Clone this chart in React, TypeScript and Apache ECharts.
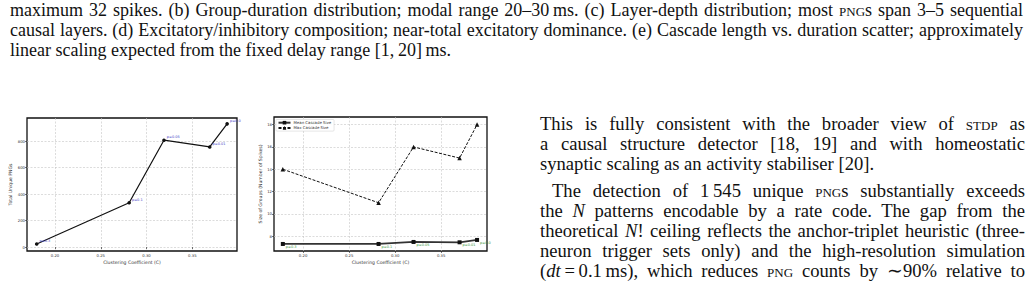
import React, { useEffect, useRef } from "react";
import * as echarts from "echarts";

const pLabels = ["p=0.3", "p=0.1", "p=0.05", "p=0.01", "p=0.0"];
const clusteringA = [0.18, 0.281, 0.319, 0.369, 0.388];
const totalPNGs = [23, 335, 808, 757, 932];
const clusteringB = [0.178, 0.282, 0.32, 0.37, 0.389];
const meanCascade = [7.31, 7.31, 7.49, 7.46, 7.67];
const maxCascade = [14, 11, 16, 15, 18];
const xTicks = [0.2, 0.25, 0.3, 0.35];
const yTicksA = [0, 200, 400, 600, 800];
const yTicksB = [8, 10, 12, 14, 16, 18];

const captionLines = [
  "maximum 32 spikes. (b) Group-duration distribution; modal range 20–30\u2009ms. (c) Layer-depth distribution; most |PNG|s span 3–5 sequential",
  "causal layers. (d) Excitatory/inhibitory composition; near-total excitatory dominance. (e) Cascade length vs. duration scatter; approximately",
  "linear scaling expected from the fixed delay range [1,\u200920]\u2009ms.",
];

const bodyLines = [
  "This is fully consistent with the broader view of |STDP| as",
  "a causal structure detector [18, 19] and with homeostatic",
  "synaptic scaling as an activity stabiliser [20].",
  "The detection of 1\u2009545 unique |PNG|s substantially exceeds",
  "the _N_ patterns encodable by a rate code.  The gap from the",
  "theoretical _N_! ceiling reflects the anchor-triplet heuristic (three-",
  "neuron trigger sets only) and the high-resolution simulation",
  "(_dt_\u2009=\u20090.1\u2009ms), which reduces |PNG| counts by ∼90% relative to",
];

const FONT = "'DejaVu Sans', sans-serif";

function renderRich(s: string) {
  const parts: React.ReactNode[] = [];
  const re = /\|([^|]+)\||_([^_]+)_/g;
  let last = 0;
  let m: RegExpExecArray | null;
  let k = 0;
  while ((m = re.exec(s))) {
    if (m.index > last) parts.push(s.slice(last, m.index));
    if (m[1] !== undefined)
      parts.push(
        <span key={k++} style={{ fontVariant: "all-small-caps" }}>
          {m[1]}
        </span>
      );
    else parts.push(<i key={k++}>{m[2]}</i>);
    last = re.lastIndex;
  }
  if (last < s.length) parts.push(s.slice(last));
  return parts;
}

function TextLine(props: {
  text: string;
  left: number;
  width: number;
  baseline: number;
  fs: number;
  justify: boolean;
}) {
  const { text, left, width, baseline, fs, justify } = props;
  return (
    <div
      style={{
        position: "absolute",
        left,
        width,
        top: baseline - 0.8375 * fs,
        fontSize: fs,
        lineHeight: `${fs}px`,
        height: fs,
        fontFamily: "'Liberation Serif', 'Times New Roman', serif",
        color: "#111",
        whiteSpace: "nowrap",
        textAlign: justify ? "justify" : "left",
        textAlignLast: justify ? "justify" : "left",
      }}
    >
      {renderRich(text)}
    </div>
  );
}

function axisCfg(ticks: number[], fmt: (v: number) => string) {
  return {
    type: "value",
    axisLine: { show: false },
    axisTick: {
      show: true,
      customValues: ticks,
      length: 2,
      lineStyle: { color: "#222", width: 0.6 },
    },
    axisLabel: {
      customValues: ticks,
      fontSize: 3.8,
      color: "#333",
      margin: 2,
      fontFamily: FONT,
      formatter: fmt,
    },
    splitLine: {
      show: true,
      lineStyle: { color: "#c4c4c4", width: 0.6, type: [2, 1.5] },
    },
    nameLocation: "middle",
    nameTextStyle: { fontSize: 4.6, color: "#333", fontFamily: FONT },
  };
}

export default function App() {
  const ref = useRef<HTMLDivElement>(null);

  useEffect(() => {
    if (!ref.current) return;
    const chart = echarts.init(ref.current, undefined, { renderer: "svg" });
    const fmtX = (v: number) => v.toFixed(2);
    const fmtY = (v: number) => String(Math.round(v));
    const dataA = clusteringA.map((x, i) => [x, totalPNGs[i]]);
    const dataMean = clusteringB.map((x, i) => [x, meanCascade[i]]);
    const dataMax = clusteringB.map((x, i) => [x, maxCascade[i]]);
    const gridBase = {
      show: true,
      borderColor: "#111",
      borderWidth: 1.3,
      backgroundColor: "#fff",
      containLabel: false,
    };
    chart.setOption({
      animation: false,
      backgroundColor: "#fff",
      grid: [
        { ...gridBase, left: 27, top: 118, width: 210, height: 133 },
        { ...gridBase, left: 274, top: 117, width: 213, height: 134 },
      ],
      xAxis: [
        {
          ...axisCfg(xTicks, fmtX),
          gridIndex: 0,
          min: 0.1694,
          max: 0.3988,
          name: "Clustering Coefficient (C)",
          nameGap: 8.5,
        },
        {
          ...axisCfg(xTicks, fmtX),
          gridIndex: 1,
          min: 0.1684,
          max: 0.3998,
          name: "Clustering Coefficient (C)",
          nameGap: 8.5,
        },
      ],
      yAxis: [
        {
          ...axisCfg(yTicksA, fmtY),
          gridIndex: 0,
          min: -30,
          max: 976,
          name: "Total Unique PNGs",
          nameGap: 14,
        },
        {
          ...axisCfg(yTicksB, fmtY),
          gridIndex: 1,
          min: 6.68,
          max: 18.68,
          name: "Size of Groups (Number of Spikes)",
          nameGap: 10.5,
        },
      ],
      legend: {
        data: ["Mean Cascade Size", "Max Cascade Size"],
        orient: "vertical",
        left: 276,
        top: 119.5,
        itemWidth: 12,
        itemHeight: 4.5,
        itemGap: 1.2,
        padding: [1.2, 3, 1.2, 1.5],
        borderColor: "#ccc",
        borderWidth: 0.5,
        borderRadius: 1,
        backgroundColor: "rgba(255,255,255,0.9)",
        textStyle: { fontSize: 3.9, color: "#333", fontFamily: FONT, padding: [0, 0, 0, -2] },
      },
      series: [
        {
          type: "line",
          xAxisIndex: 0,
          yAxisIndex: 0,
          data: dataA,
          symbol: "circle",
          symbolSize: 3.6,
          itemStyle: { color: "#111" },
          lineStyle: { color: "#111", width: 1.2 },
          label: {
            show: true,
            position: "right",
            distance: 1,
            offset: [0, -3],
            fontSize: 3.5,
            color: "#4646c8",
            fontFamily: FONT,
            formatter: (p: any) => pLabels[p.dataIndex],
          },
        },
        {
          name: "Mean Cascade Size",
          type: "line",
          xAxisIndex: 1,
          yAxisIndex: 1,
          data: dataMean,
          symbol: "rect",
          symbolSize: 4,
          itemStyle: { color: "#111" },
          lineStyle: { color: "#333", width: 1.8 },
          label: {
            show: true,
            position: "right",
            distance: 1,
            offset: [0, 3],
            fontSize: 3.5,
            color: "#3c963c",
            fontFamily: FONT,
            formatter: (p: any) => pLabels[p.dataIndex],
          },
        },
        {
          name: "Max Cascade Size",
          type: "line",
          xAxisIndex: 1,
          yAxisIndex: 1,
          data: dataMax,
          symbol: "triangle",
          symbolSize: 4.5,
          itemStyle: { color: "#111" },
          lineStyle: { color: "#111", width: 1, type: [3, 1.5] },
        },
      ],
    });
    return () => chart.dispose();
  }, []);

  const capFs = 18;
  const bodyFs = 18.6;
  const capBase = [16.5, 36.5, 56.5];
  const bodyBase = [130.7, 150.7, 170.7, 197.3, 217.3, 237.3, 257.3, 277.5];

  return (
    <div
      style={{
        position: "fixed",
        left: 0,
        top: 0,
        width: 1032,
        height: 296,
        background: "#fff",
        overflow: "hidden",
      }}
    >
      <div ref={ref} style={{ position: "absolute", left: 0, top: 0, width: 530, height: 296 }} />
      {captionLines.map((t, i) => (
        <TextLine
          key={"c" + i}
          text={t}
          left={10}
          width={1013}
          baseline={capBase[i]}
          fs={capFs}
          justify={i < 2}
        />
      ))}
      {bodyLines.map((t, i) => (
        <TextLine
          key={"b" + i}
          text={t}
          left={i === 3 ? 552 : 540}
          width={i === 3 ? 1025 - 552 : 1025 - 540}
          baseline={bodyBase[i]}
          fs={bodyFs}
          justify={i !== 2}
        />
      ))}
    </div>
  );
}
